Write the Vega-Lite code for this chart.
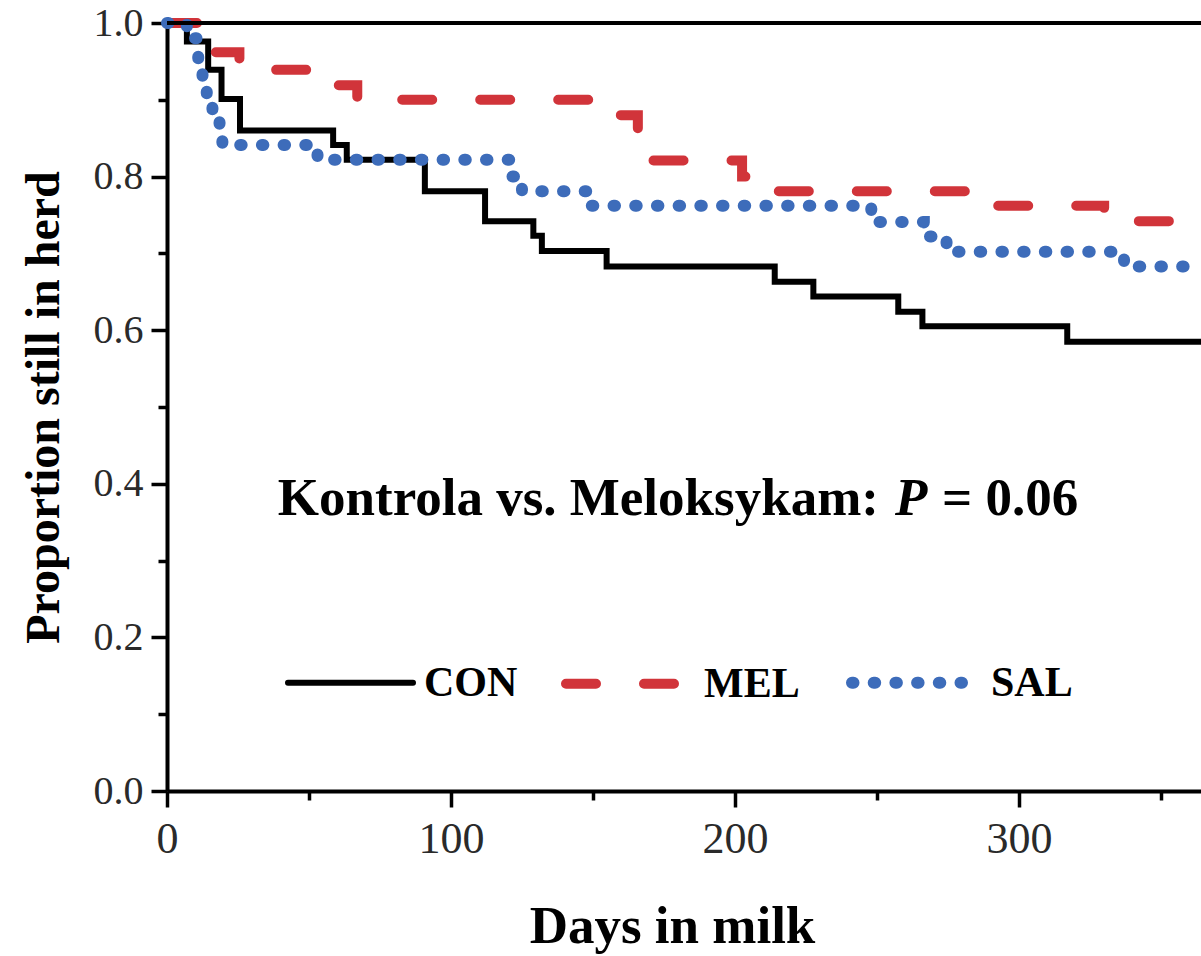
{
  "$schema": "https://vega.github.io/schema/vega-lite/v6.json",
  "width": 1034,
  "height": 768,
  "autosize": "none",
  "padding": {"left": 167, "top": 23, "right": 0, "bottom": 165},
  "background": "white",
  "config": {"view": {"stroke": null}},
  "layer": [
    {
      "data": {"values": [
        {"g": "CON", "day": 0, "p": 1.0},
        {"g": "CON", "day": 7, "p": 0.976},
        {"g": "CON", "day": 14.5, "p": 0.939},
        {"g": "CON", "day": 19.2, "p": 0.901},
        {"g": "CON", "day": 25.7, "p": 0.86},
        {"g": "CON", "day": 58.5, "p": 0.841},
        {"g": "CON", "day": 63.3, "p": 0.822},
        {"g": "CON", "day": 90.8, "p": 0.781},
        {"g": "CON", "day": 112, "p": 0.742},
        {"g": "CON", "day": 129, "p": 0.723},
        {"g": "CON", "day": 132, "p": 0.703},
        {"g": "CON", "day": 154.8, "p": 0.683},
        {"g": "CON", "day": 214, "p": 0.663},
        {"g": "CON", "day": 227.6, "p": 0.644},
        {"g": "CON", "day": 257.5, "p": 0.624},
        {"g": "CON", "day": 266, "p": 0.605},
        {"g": "CON", "day": 317, "p": 0.585},
        {"g": "CON", "day": 364.1, "p": 0.585},
        {"g": "MEL", "day": 0, "p": 1.0},
        {"g": "MEL", "day": 15, "p": 0.962},
        {"g": "MEL", "day": 25.5, "p": 0.939},
        {"g": "MEL", "day": 60, "p": 0.919},
        {"g": "MEL", "day": 67, "p": 0.9},
        {"g": "MEL", "day": 150, "p": 0.88},
        {"g": "MEL", "day": 165.8, "p": 0.86},
        {"g": "MEL", "day": 167, "p": 0.821},
        {"g": "MEL", "day": 202.5, "p": 0.8},
        {"g": "MEL", "day": 213, "p": 0.781},
        {"g": "MEL", "day": 283, "p": 0.762},
        {"g": "MEL", "day": 330, "p": 0.742},
        {"g": "MEL", "day": 364.1, "p": 0.742},
        {"g": "SAL", "day": 0, "p": 1.0},
        {"g": "SAL", "day": 7, "p": 0.98},
        {"g": "SAL", "day": 11, "p": 0.95},
        {"g": "SAL", "day": 12.5, "p": 0.92},
        {"g": "SAL", "day": 14, "p": 0.901},
        {"g": "SAL", "day": 16, "p": 0.884},
        {"g": "SAL", "day": 18.5, "p": 0.861},
        {"g": "SAL", "day": 19.5, "p": 0.841},
        {"g": "SAL", "day": 53, "p": 0.822},
        {"g": "SAL", "day": 121, "p": 0.8},
        {"g": "SAL", "day": 125, "p": 0.781},
        {"g": "SAL", "day": 148, "p": 0.762},
        {"g": "SAL", "day": 248, "p": 0.741},
        {"g": "SAL", "day": 266.5, "p": 0.722},
        {"g": "SAL", "day": 274.5, "p": 0.702},
        {"g": "SAL", "day": 337, "p": 0.683},
        {"g": "SAL", "day": 364.1, "p": 0.683}
      ]},
      "mark": {"type": "line", "interpolate": "step-after", "strokeCap": "round", "strokeJoin": "miter"},
      "encoding": {
        "x": {
          "field": "day", "type": "quantitative",
          "scale": {"domain": [0, 364.1], "nice": false, "zero": false},
          "axis": {
            "values": [0, 50, 100, 150, 200, 250, 300, 350],
            "labelExpr": "datum.value % 100 === 0 ? datum.label : ''",
            "tickSize": {"condition": {"test": "datum.value % 100 !== 0", "value": 9}, "value": 16},
            "title": "Days in milk",
            "titleFont": "Liberation Serif", "titleFontSize": 53, "titleFontWeight": "bold", "titleColor": "black",
            "titleX": 505, "titleY": 151, "titleBaseline": "alphabetic", "titleAlign": "center",
            "labelFont": "Liberation Serif", "labelFontSize": 44, "labelColor": "#2a2a2a", "labelPadding": 10,
            "labelFlush": false, "labelOverlap": false, "grid": false,
            "domainColor": "black", "domainWidth": 4, "tickColor": "black", "tickWidth": 3.5
          }
        },
        "y": {
          "field": "p", "type": "quantitative",
          "scale": {"domain": [0, 1], "nice": false},
          "axis": {
            "values": [0, 0.1, 0.2, 0.3, 0.4, 0.5, 0.6, 0.7, 0.8, 0.9, 1],
            "labelExpr": "round(datum.value*10) % 2 === 0 ? format(datum.value, '.1f') : ''",
            "tickSize": {"condition": {"test": "round(datum.value*10) % 2 !== 0", "value": 9}, "value": 16},
            "title": "Proportion still in herd",
            "titleFont": "Liberation Serif", "titleFontSize": 48, "titleFontWeight": "bold", "titleColor": "black",
            "titleX": -109, "titleY": 384, "titleBaseline": "alphabetic", "titleAlign": "center", "titleAngle": 270,
            "labelFont": "Liberation Serif", "labelFontSize": 40, "labelColor": "#2a2a2a", "labelPadding": 8,
            "labelFlush": false, "labelOverlap": false, "grid": false,
            "domainColor": "black", "domainWidth": 4, "tickColor": "black", "tickWidth": 3.5
          }
        },
        "color": {
          "field": "g", "type": "nominal",
          "scale": {"domain": ["CON", "MEL", "SAL"], "range": ["#000000", "#d1343a", "#3d6cba"]},
          "legend": {
            "orient": "none", "legendX": 118, "legendY": 591, "direction": "horizontal", "title": null,
            "symbolType": "stroke", "symbolSize": 15625,
            "labelFont": "Liberation Serif", "labelFontSize": 42, "labelFontWeight": "bold", "labelColor": "black",
            "labelOffset": 8, "columnPadding": 28,
            "encode": {"symbols": {"update": {"strokeCap": {"value": "round"}}}}
          }
        },
        "strokeDash": {
          "field": "g", "type": "nominal",
          "scale": {"domain": ["CON", "MEL", "SAL"], "range": [[1, 0], [30, 48], [1.5, 20.2]]}
        },
        "strokeWidth": {
          "field": "g", "type": "nominal",
          "scale": {"type": "ordinal", "domain": ["CON", "MEL", "SAL"], "range": [6, 10, 12]}
        }
      }
    },
    {
      "data": {"values": [{}]},
      "mark": {"type": "rule", "color": "black", "strokeWidth": 4},
      "encoding": {"y": {"datum": 1, "type": "quantitative"}}
    },
    {
      "data": {"values": [{}]},
      "mark": {"type": "text", "text": "Kontrola vs. Meloksykam:", "align": "right", "baseline": "alphabetic",
               "font": "Liberation Serif", "fontSize": 53, "fontWeight": "bold", "color": "black"},
      "encoding": {"x": {"datum": 250.7, "type": "quantitative"}, "y": {"datum": 0.36, "type": "quantitative"}}
    },
    {
      "data": {"values": [{}]},
      "mark": {"type": "text", "text": "P", "align": "left", "baseline": "alphabetic", "dx": 16,
               "font": "Liberation Serif", "fontSize": 53, "fontWeight": "bold", "fontStyle": "italic", "color": "black"},
      "encoding": {"x": {"datum": 250.7, "type": "quantitative"}, "y": {"datum": 0.36, "type": "quantitative"}}
    },
    {
      "data": {"values": [{}]},
      "mark": {"type": "text", "text": "= 0.06", "align": "left", "baseline": "alphabetic", "dx": 63,
               "font": "Liberation Serif", "fontSize": 53, "fontWeight": "bold", "color": "black"},
      "encoding": {"x": {"datum": 250.7, "type": "quantitative"}, "y": {"datum": 0.36, "type": "quantitative"}}
    }
  ]
}
